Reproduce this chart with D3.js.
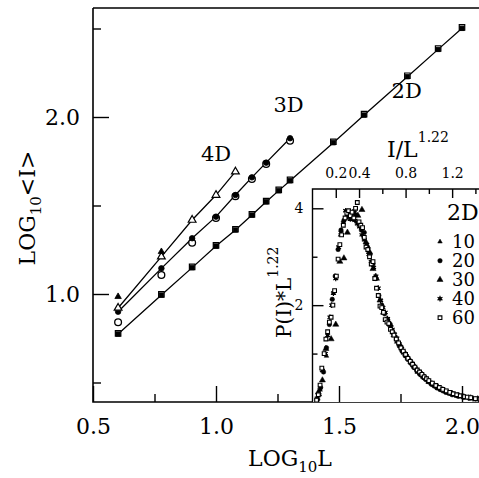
<!DOCTYPE html>
<html><head><meta charset="utf-8">
<script src="https://cdn.jsdelivr.net/npm/d3@7"></script>
<style>
body{margin:0;background:#fff;}
text{font-family:"DejaVu Serif",serif;fill:#000;}
</style></head>
<body><svg id="c" width="479" height="478"></svg>
<script>
// ---- main plot data (log10 L vs log10 <I>) ----
const logL2D = [0.602,0.778,0.903,1.0,1.079,1.146,1.204,1.255,1.301,1.477,1.602,1.778,1.903,2.0];
const logI2D = [0.774,0.994,1.149,1.271,1.362,1.446,1.521,1.584,1.640,1.855,2.011,2.228,2.382,2.501];
const logI2Dopen = [0.778,0.998,1.153,1.275,1.366,1.450,1.525,1.588,1.645,1.860,2.016,2.233,2.387,2.506];
const logL3D = [0.602,0.778,0.903,1.0,1.079,1.146,1.204,1.301];
const logI3D = [0.900,1.145,1.315,1.437,1.559,1.659,1.742,1.880];
const logI3Dopen = [0.840,1.107,1.290,1.429,1.552,1.650,1.735,1.866];
const logL4D = [0.602,0.778,0.903,1.0,1.079];
const logI4Dopen = [0.921,1.211,1.418,1.559,1.691];
const logL4Dfilled = [0.602,0.778];
const logI4Dfilled = [0.985,1.239];
const curveLabels = ["4D","3D","2D"];
const xTicksMajor = [0.5,1.0,1.5,2.0];
const xTicksMinor = [0.75,1.25,1.75];
const yTicksMajor = [1.0,2.0];
const yTicksMinor = [0.5,1.5,2.5];

// ---- inset data (I/L^1.22 vs P(I)*L^1.22), 2D ----
const insetSizes = ["10","20","30","40","60"];
const inset10 = [[0.06,0.15],[0.12,0.95],[0.18,2.25],[0.24,3.45],[0.30,3.85],[0.36,3.95],[0.42,3.6],[0.48,3.2],[0.54,2.6],[0.60,2.0],[0.66,1.65],[0.72,1.3],[0.78,1.05],[0.84,0.82],[0.90,0.62],[0.96,0.5],[1.02,0.38],[1.08,0.29],[1.14,0.22],[1.20,0.16],[1.26,0.12],[1.32,0.09],[1.38,0.07],[1.44,0.05]];
const inset20 = [[0.045,0.05],[0.07,0.3],[0.095,0.62],[0.12,1.12],[0.145,1.6],[0.17,2.12],[0.195,2.6],[0.22,3.15],[0.245,3.55],[0.27,3.75],[0.295,3.82],[0.32,3.92],[0.345,3.78],[0.37,3.86],[0.395,3.7],[0.42,3.55],[0.445,3.5],[0.47,3.2],[0.495,3.05],[0.52,2.85],[0.545,2.55],[0.57,2.2],[0.595,2.0],[0.62,1.82],[0.645,1.7],[0.67,1.55],[0.695,1.42],[0.72,1.3],[0.745,1.16],[0.77,1.05],[0.795,0.96],[0.82,0.88],[0.845,0.8],[0.87,0.72],[0.895,0.65],[0.92,0.58],[0.945,0.52],[0.97,0.47],[0.995,0.42],[1.02,0.37],[1.045,0.33],[1.07,0.29],[1.095,0.26],[1.12,0.23],[1.145,0.2],[1.17,0.18],[1.2,0.15],[1.25,0.12],[1.3,0.1],[1.35,0.08],[1.4,0.06],[1.45,0.05]];
const inset30 = [[0.05,0.2],[0.085,0.45],[0.115,1.1],[0.16,1.3],[0.2,1.6],[0.235,2.9],[0.27,2.97],[0.3,3.5],[0.33,3.85],[0.36,3.9],[0.39,3.85],[0.425,3.97],[0.46,3.3],[0.49,3.1],[0.52,2.75],[0.55,2.55],[0.58,2.1],[0.61,1.85],[0.64,1.7],[0.67,1.6],[0.7,1.38],[0.73,1.25],[0.76,1.15],[0.79,1.02],[0.82,0.92],[0.85,0.82],[0.88,0.72],[0.91,0.63],[0.94,0.56],[0.97,0.5],[1.0,0.42],[1.04,0.36],[1.08,0.3],[1.12,0.25],[1.16,0.2],[1.2,0.17],[1.25,0.13],[1.3,0.1],[1.36,0.08],[1.42,0.06]];
const inset40 = [[0.04,0.08],[0.065,0.25],[0.085,0.65],[0.11,1.0],[0.13,1.38],[0.15,1.75],[0.165,2.0],[0.18,2.25],[0.2,2.55],[0.225,3.2],[0.245,3.5],[0.265,3.7],[0.285,3.95],[0.305,3.88],[0.325,3.78],[0.345,3.92],[0.365,3.75],[0.385,3.68],[0.405,3.62],[0.425,3.45],[0.445,3.35],[0.465,3.25],[0.485,3.05],[0.505,2.9],[0.525,2.78],[0.545,2.6],[0.565,2.35],[0.585,2.1],[0.605,1.95],[0.625,1.85],[0.645,1.72],[0.665,1.6],[0.685,1.5],[0.705,1.4],[0.725,1.32],[0.745,1.2],[0.765,1.1],[0.785,1.02],[0.805,0.95],[0.825,0.88],[0.845,0.82],[0.865,0.75],[0.885,0.7],[0.905,0.64],[0.925,0.6],[0.945,0.55],[0.965,0.5],[0.985,0.46],[1.01,0.41],[1.04,0.36],[1.07,0.31],[1.1,0.27],[1.13,0.24],[1.16,0.21],[1.19,0.18],[1.22,0.15],[1.26,0.13],[1.3,0.11],[1.34,0.09],[1.38,0.07],[1.43,0.06],[1.48,0.05]];
const inset60 = [[0.035,0.04],[0.05,0.15],[0.065,0.35],[0.08,0.7],[0.1,1.0],[0.115,1.3],[0.13,1.45],[0.145,1.65],[0.16,1.75],[0.175,2.0],[0.19,2.3],[0.205,2.6],[0.22,2.95],[0.235,3.25],[0.25,3.45],[0.265,3.65],[0.28,3.8],[0.295,3.9],[0.31,3.95],[0.325,3.85],[0.34,3.92],[0.355,3.8],[0.37,4.0],[0.385,4.12],[0.4,3.72],[0.415,3.65],[0.43,3.6],[0.445,3.4],[0.46,3.2],[0.475,3.15],[0.49,3.0],[0.505,2.85],[0.52,2.9],[0.535,2.55],[0.55,2.35],[0.565,2.2],[0.58,1.98],[0.595,1.95],[0.61,1.85],[0.625,1.7],[0.64,1.65],[0.655,1.62],[0.67,1.5],[0.685,1.45],[0.7,1.38],[0.72,1.3],[0.74,1.22],[0.76,1.12],[0.78,1.05],[0.8,0.98],[0.82,0.9],[0.84,0.84],[0.86,0.78],[0.88,0.72],[0.9,0.66],[0.92,0.62],[0.94,0.57],[0.96,0.52],[0.98,0.48],[1.0,0.44],[1.03,0.39],[1.06,0.34],[1.09,0.3],[1.12,0.26],[1.15,0.23],[1.18,0.2],[1.21,0.17],[1.24,0.15],[1.27,0.13],[1.3,0.11],[1.33,0.1],[1.36,0.09],[1.4,0.07],[1.44,0.06],[1.48,0.05]];
const insetXTicksLabeled = [0.2,0.4,0.8,1.2];
const insetXTicksMinor = [0.6,1.0,1.4];
const insetYTicksLabeled = [2,4];
const insetYTicksMinor = [1,3];

const svg = d3.select("#c");
const x = d3.scaleLinear().domain([0.5,2.0]).range([93,462]);
const y = d3.scaleLinear().domain([1.0,2.0]).range([294,117]);
const top0 = 8, bot0 = 402;

// frame
svg.append("path").attr("d",`M${x(0.5)},${top0}H${x(2.2)}M${x(0.5)},${top0}V${bot0}H${x(2.2)}`)
  .attr("fill","none").attr("stroke","#000").attr("stroke-width",1.6);

// main lines
const line = d3.line().x(d=>x(d[0])).y(d=>y(d[1]));
const series = [
  d3.zip(logL4D,logI4Dopen),
  d3.zip(logL3D,logI3D),
  d3.zip(logL2D,logI2D)
];
series.forEach(s=>svg.append("path").attr("d",line(s)).attr("fill","none").attr("stroke","#000").attr("stroke-width",1.3));

const sym = (type,size)=>d3.symbol().type(type).size(size)();
function pts(xs,ys,type,size,filled,sw){
  svg.append("g").selectAll("path").data(d3.zip(xs,ys)).join("path")
    .attr("transform",d=>`translate(${x(d[0])},${y(d[1])})`)
    .attr("d",sym(type,size))
    .attr("fill",filled?"#000":"#fff").attr("stroke","#000").attr("stroke-width",sw);
}
pts(logL2D,logI2Dopen,d3.symbolSquare,30,false,1.2);
pts(logL2D,logI2D,d3.symbolSquare,20,true,0.8);
pts(logL3D,logI3Dopen,d3.symbolCircle,36,false,1.3);
pts(logL3D,logI3D,d3.symbolCircle,24,true,0.8);
pts(logL4D,logI4Dopen,d3.symbolTriangle,26,false,1.2);
pts(logL4Dfilled,logI4Dfilled,d3.symbolTriangle,18,true,0.8);

// curve labels
const labelPos = [[1.0,1.75],[1.295,2.03],[1.775,2.11]];
curveLabels.forEach((t,i)=>svg.append("text").attr("x",x(labelPos[i][0])).attr("y",y(labelPos[i][1]))
  .attr("text-anchor","middle").attr("font-size",21).text(t));

// ---- inset ----
const ix = d3.scaleLinear().domain([0,1.4]).range([312.5,475.4]);
const iy = d3.scaleLinear().domain([0,4]).range([bot0,208.3]);
const itop = 189;
svg.append("rect").attr("x",ix(0)).attr("y",itop).attr("width",200).attr("height",bot0-itop).attr("fill","#fff");

const isets = [inset10,inset20,inset30,inset40,inset60];
const istyle = [
  {type:d3.symbolTriangle,size:9,fill:"#000"},
  {type:d3.symbolCircle,size:16,fill:"#000"},
  {type:d3.symbolTriangle,size:16,fill:"#000"},
  {type:d3.symbolAsterisk,size:22,fill:"#000"},
  {type:d3.symbolSquare,size:14,fill:"#fff"}
];
function iSym(g,st){
  if(st.type===d3.symbolAsterisk){
    g.append("path").attr("d",sym(d3.symbolCircle,10)).attr("fill","#000");
    g.append("path").attr("d",sym(d3.symbolAsterisk,st.size)).attr("fill","none").attr("stroke","#000").attr("stroke-width",1.2);
  } else {
    g.append("path").attr("d",sym(st.type,st.size)).attr("fill",st.fill).attr("stroke","#000").attr("stroke-width",st.fill==="#fff"?1.1:0.5);
  }
}
svg.append("clipPath").attr("id","ic").append("rect").attr("x",ix(0)).attr("y",itop).attr("width",200).attr("height",bot0-itop);
const idata = svg.append("g").attr("clip-path","url(#ic)");
isets.forEach((set,k)=>{
  set.forEach(d=>{
    const g = idata.append("g").attr("transform",`translate(${ix(d[0])},${iy(d[1])})`);
    iSym(g,istyle[k]);
  });
});

// inset frame
svg.append("path").attr("d",`M${ix(0)},${bot0}V${itop}H${ix(2)}`).attr("fill","none").attr("stroke","#000").attr("stroke-width",1.4);

// inset axes
const iyAx = svg.append("g").attr("transform",`translate(${ix(0)},0)`)
  .call(d3.axisLeft(iy).tickValues(insetYTicksLabeled).tickSizeInner(-11).tickSizeOuter(0).tickPadding(9).tickFormat(d3.format("d")));
svg.append("g").attr("transform",`translate(${ix(0)},0)`)
  .call(d3.axisRight(iy).tickValues(insetYTicksMinor).tickSize(5).tickFormat(""));
const ixAx = svg.append("g").attr("transform",`translate(0,${itop})`)
  .call(d3.axisTop(ix).tickValues(insetXTicksLabeled).tickSizeInner(-9).tickSizeOuter(0).tickPadding(11).tickFormat(d3.format(".1f")));
svg.append("g").attr("transform",`translate(0,${itop})`)
  .call(d3.axisBottom(ix).tickValues(insetXTicksMinor).tickSize(5).tickFormat(""));
[iyAx,ixAx].forEach(a=>{a.select(".domain").remove();a.selectAll("text").attr("font-size",14).attr("font-family","DejaVu Serif");});
ixAx.selectAll("text").attr("dy","0");
svg.selectAll(".domain").remove();
svg.selectAll(".tick line").attr("stroke","#000").attr("stroke-width",1.3);

// inset titles
const it1 = svg.append("text").attr("x",387).attr("y",157).attr("font-size",22);
it1.append("tspan").text("I/L");
it1.append("tspan").attr("dy",-15).attr("font-size",14).text("1.22");

const it2 = svg.append("text").attr("transform","translate(291,338) rotate(-90)").attr("font-size",20);
it2.append("tspan").text("P(I)*L");
it2.append("tspan").attr("dy",-13).attr("font-size",14).text("1.22");

// legend
svg.append("text").attr("x",447).attr("y",220).attr("font-size",22).text("2D");
insetSizes.forEach((t,k)=>{
  const yy = 241.7 + k*19;
  const g = svg.append("g").attr("transform",`translate(440,${yy})`);
  iSym(g,istyle[k]);
  svg.append("text").attr("x",452).attr("y",yy+6).attr("font-size",18).text(t);
});

// ---- main axes ----
const yAx = svg.append("g").attr("transform",`translate(${x(0.5)},0)`)
  .call(d3.axisLeft(y).tickValues(yTicksMajor).tickSizeInner(-16).tickSizeOuter(0).tickPadding(13).tickFormat(d3.format(".1f")));
svg.append("g").attr("transform",`translate(${x(0.5)},0)`)
  .call(d3.axisRight(y).tickValues(yTicksMinor).tickSize(8).tickFormat(""));
const xAx = svg.append("g").attr("transform",`translate(0,${bot0})`)
  .call(d3.axisBottom(x).tickValues(xTicksMajor).tickSizeInner(-16).tickSizeOuter(0).tickPadding(16).tickFormat(d3.format(".1f")));
svg.append("g").attr("transform",`translate(0,${bot0})`)
  .call(d3.axisTop(x).tickValues(xTicksMinor).tickSize(8).tickFormat(""));
[yAx,xAx].forEach(a=>a.selectAll("text").attr("font-size",22).attr("font-family","DejaVu Serif"));
svg.selectAll(".domain").remove();
svg.selectAll(".tick line").attr("stroke","#000").attr("stroke-width",1.4);

// axis titles
const xt = svg.append("text").attr("x",290).attr("y",466).attr("text-anchor","middle").attr("font-size",22);
xt.append("tspan").text("LOG");
xt.append("tspan").attr("dy",6).attr("font-size",15).text("10");
xt.append("tspan").attr("dy",-6).text("L");

const yt = svg.append("text").attr("transform","translate(35,208) rotate(-90)").attr("text-anchor","middle").attr("font-size",22);
yt.append("tspan").text("LOG");
yt.append("tspan").attr("dy",6).attr("font-size",15).text("10");
yt.append("tspan").attr("dy",-6).text("<I>");
</script></body></html>
